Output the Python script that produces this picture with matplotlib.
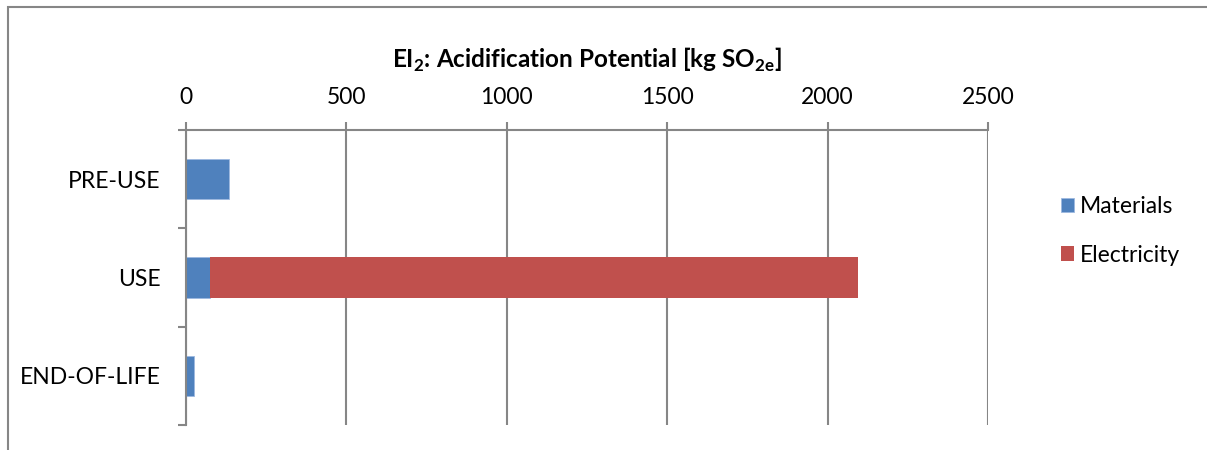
import matplotlib.pyplot as plt
import matplotlib.patches as mpatches

plt.rcParams['font.family'] = ['Lato', 'DejaVu Sans']
plt.rcParams['mathtext.fontset'] = 'custom'
plt.rcParams['mathtext.rm'] = 'Lato'
plt.rcParams['mathtext.bf'] = 'Lato:bold'

# data
phases = ['PRE-USE', 'USE', 'END-OF-LIFE']
materials = [134, 75, 25]
electricity = [0, 2020, 0]
xticks = [0, 500, 1000, 1500, 2000, 2500]

blue = '#4F81BD'
red = '#C0504D'
grey = '#868686'
fs = 16.5

fig = plt.figure(figsize=(12.07, 4.5), dpi=100)
ax = fig.add_axes([186 / 1207, 25 / 450, 802 / 1207, 295 / 450])

pos = list(range(len(phases)))
ax.barh(pos, materials, height=0.41, color=blue, edgecolor='#9DB9E0', linewidth=0.6, label='Materials', zorder=3)
ax.barh(pos, electricity, left=materials, height=0.41, color=red, label='Electricity', zorder=3)

ax.set_xlim(0, 2500)
ax.set_ylim(len(phases) - 0.5, -0.5)

ax.xaxis.tick_top()
ax.set_xticks(xticks)
ax.set_xticklabels([str(v) for v in xticks], fontsize=fs)
ax.tick_params(axis='x', direction='out', length=5.8, width=1.5, color=grey, pad=10)
ax.grid(axis='x', color=grey, linewidth=1.5, zorder=0)

ax.set_yticks(pos)
ax.set_yticklabels(phases, fontsize=fs)
ax.tick_params(axis='y', which='major', length=0, pad=18.5)
ax.set_yticks([-0.5, 0.5, 1.5, 2.5], minor=True)
ax.tick_params(axis='y', which='minor', direction='out', length=5.8, width=1.5, color=grey)

for s in ['right', 'bottom']:
    ax.spines[s].set_visible(False)
for s in ['left', 'top']:
    ax.spines[s].set_color(grey)
    ax.spines[s].set_linewidth(1.5)
    ax.spines[s].set_zorder(4)

fig.text(587 / 1207, 1 - 60 / 450,
         r'EI$_\mathbf{2}$: Acidification Potential [kg SO$_\mathbf{2e}$]',
         ha='center', va='center', fontsize=17.5, fontweight='bold')

fig.legend(loc='center left', bbox_to_anchor=(1040 / 1207, 1 - 231 / 450), frameon=False,
           fontsize=fs, handlelength=0.6, handleheight=0.6, handletextpad=0.25, labelspacing=1.2)

# outer chart frame
fig.add_artist(mpatches.Rectangle((8 / 1207, -0.1), 1.2, 1 - 7 / 450 + 0.1, transform=fig.transFigure,
                                  fill=False, edgecolor=grey, linewidth=1.5))

fig.savefig('out.png', dpi=100)
